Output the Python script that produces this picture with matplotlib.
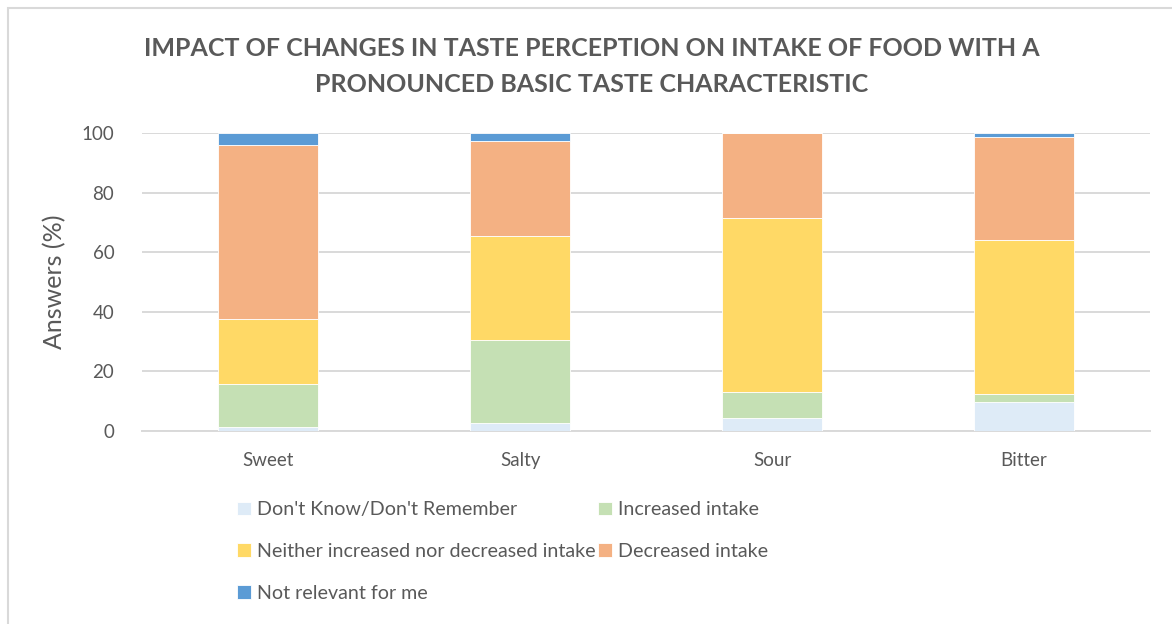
import matplotlib.pyplot as plt
import numpy as np
from matplotlib.patches import Rectangle

plt.rcParams['font.family'] = ['Lato', 'DejaVu Sans']

# data (percent of answers)
tastes = ["Sweet", "Salty", "Sour", "Bitter"]
dont_know = [1.2, 2.6, 4.4, 9.7]
increased = [14.7, 27.8, 8.7, 2.8]
neither = [21.8, 34.9, 58.5, 51.7]
decreased = [58.2, 31.9, 28.4, 34.3]
not_relevant = [4.1, 2.8, 0.0, 1.5]

series_names = ["Don't Know/Don't Remember", "Increased intake",
                "Neither increased nor decreased intake", "Decreased intake",
                "Not relevant for me"]
series_colors = ["#DEEBF7", "#C5E0B4", "#FFD966", "#F4B183", "#5B9BD5"]
text_col = "#595959"

fig = plt.figure(figsize=(11.72, 6.24), dpi=100)
ax = fig.add_axes([0.1212, 0.3093, 0.86, 0.4776])

x = np.arange(len(tastes))
bottom = np.zeros(len(tastes))
handles = []
for vals, name, col in zip([dont_know, increased, neither, decreased, not_relevant],
                           series_names, series_colors):
    b = ax.bar(x, vals, 0.4, bottom=bottom, color=col, label=name,
               edgecolor="white", linewidth=0.6, zorder=3)
    handles.append(b)
    bottom += np.array(vals)

ax.set_xlim(-0.5, 3.5)
ax.set_ylim(0, 100)
ax.set_yticks([0, 20, 40, 60, 80, 100])
ax.set_xticks(x)
ax.set_xticklabels(tastes)
ax.yaxis.grid(True, color="#D9D9D9", linewidth=1.4, zorder=0)
for s in ["top", "right", "left"]:
    ax.spines[s].set_visible(False)
ax.spines["bottom"].set_color("#D9D9D9")
ax.spines["bottom"].set_linewidth(1.4)
ax.tick_params(axis="both", length=0, labelsize=13.5, colors=text_col)
ax.tick_params(axis="x", pad=15)
ax.tick_params(axis="y", pad=20)
ax.set_ylabel("Answers (%)", fontsize=18, color=text_col, labelpad=11)

fig.text(0.505, 0.922, "IMPACT OF CHANGES IN TASTE PERCEPTION ON INTAKE OF FOOD WITH A",
         ha="center", va="center", fontsize=18, fontweight="bold", color=text_col)
fig.text(0.505, 0.864, "PRONOUNCED BASIC TASTE CHARACTERISTIC",
         ha="center", va="center", fontsize=18, fontweight="bold", color=text_col)

# legend filled column-wise, so reorder to read row by row
order = [0, 2, 4, 1, 3]
leg = fig.legend([handles[i] for i in order], [series_names[i] for i in order],
                 loc="upper left", bbox_to_anchor=(0.2022, 0.1965), ncol=2,
                 frameon=False, fontsize=14.1, handlelength=0.7, handleheight=0.7,
                 handletextpad=0.3, labelspacing=1.26, columnspacing=0.15,
                 borderaxespad=0, borderpad=0)
for t in leg.get_texts():
    t.set_color(text_col)

# chart border (cropped at right/bottom)
fig.patches.append(Rectangle((8 / 1172, -0.1), 1.2, 1.1 - 8 / 624, transform=fig.transFigure,
                             fill=False, edgecolor="#D9D9D9", linewidth=1.5))

fig.savefig("out.png", dpi=100)
